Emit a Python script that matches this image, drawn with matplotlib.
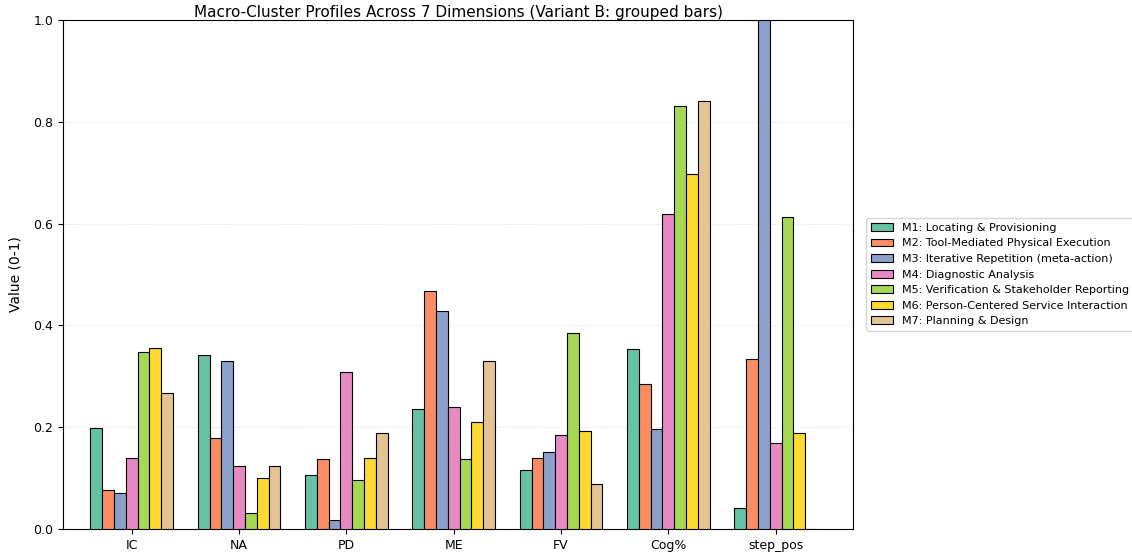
import matplotlib
matplotlib.use("Agg")
import matplotlib.pyplot as plt
import numpy as np

DIMS = ["IC", "NA", "PD", "ME", "FV", "Cog%", "step_pos"]
CLUSTERS = ["M1: Locating & Provisioning",
            "M2: Tool-Mediated Physical Execution",
            "M3: Iterative Repetition (meta-action)",
            "M4: Diagnostic Analysis",
            "M5: Verification & Stakeholder Reporting",
            "M6: Person-Centered Service Interaction",
            "M7: Planning & Design"]

M1 = [0.198, 0.342, 0.106, 0.236, 0.116, 0.354, 0.041]
M2 = [0.077, 0.179, 0.138, 0.467, 0.139, 0.285, 0.334]
M3 = [0.071, 0.330, 0.018, 0.428, 0.151, 0.196, 1.000]
M4 = [0.140, 0.124, 0.308, 0.240, 0.185, 0.619, 0.169]
M5 = [0.348, 0.031, 0.096, 0.138, 0.385, 0.831, 0.613]
M6 = [0.356, 0.100, 0.140, 0.210, 0.193, 0.697, 0.189]
M7 = [0.267, 0.124, 0.189, 0.330, 0.089, 0.841, 0.001]
SERIES = [M1, M2, M3, M4, M5, M6, M7]

COLORS = ["#66c2a5", "#fc8d62", "#8da0cb", "#e78ac3", "#a6d854", "#ffd92f", "#e5c494"]


def main():
    fig = plt.figure(figsize=(11.32, 5.54), dpi=100)
    ax = fig.add_axes([0.0557, 0.0451, 0.6978, 0.9188])
    x = np.arange(len(DIMS))
    w = 0.11
    for i, (vals, lab, col) in enumerate(zip(SERIES, CLUSTERS, COLORS)):
        ax.bar(x + (i - 3) * w, vals, width=w, color=col, edgecolor="black",
               linewidth=0.8, label=lab, zorder=3)
    ax.set_xticks(x)
    ax.set_xticklabels(DIMS, fontsize=9)
    ax.set_xlim(-0.64, 6.72)
    ax.set_ylim(0, 1.0)
    ax.set_ylabel("Value (0-1)", fontsize=10, labelpad=8)
    ax.tick_params(axis="y", labelsize=9)
    ax.grid(axis="y", ls=":", lw=0.7, color="0.85", zorder=0)
    ax.set_title("Macro-Cluster Profiles Across 7 Dimensions (Variant B: grouped bars)",
                 fontsize=11, pad=2)
    ax.legend(fontsize=8, loc="center left", bbox_to_anchor=(1.01, 0.5),
              frameon=True, handlelength=2.0, labelspacing=0.5)
    fig.savefig("out.png", dpi=100)


if __name__ == "__main__":
    main()
